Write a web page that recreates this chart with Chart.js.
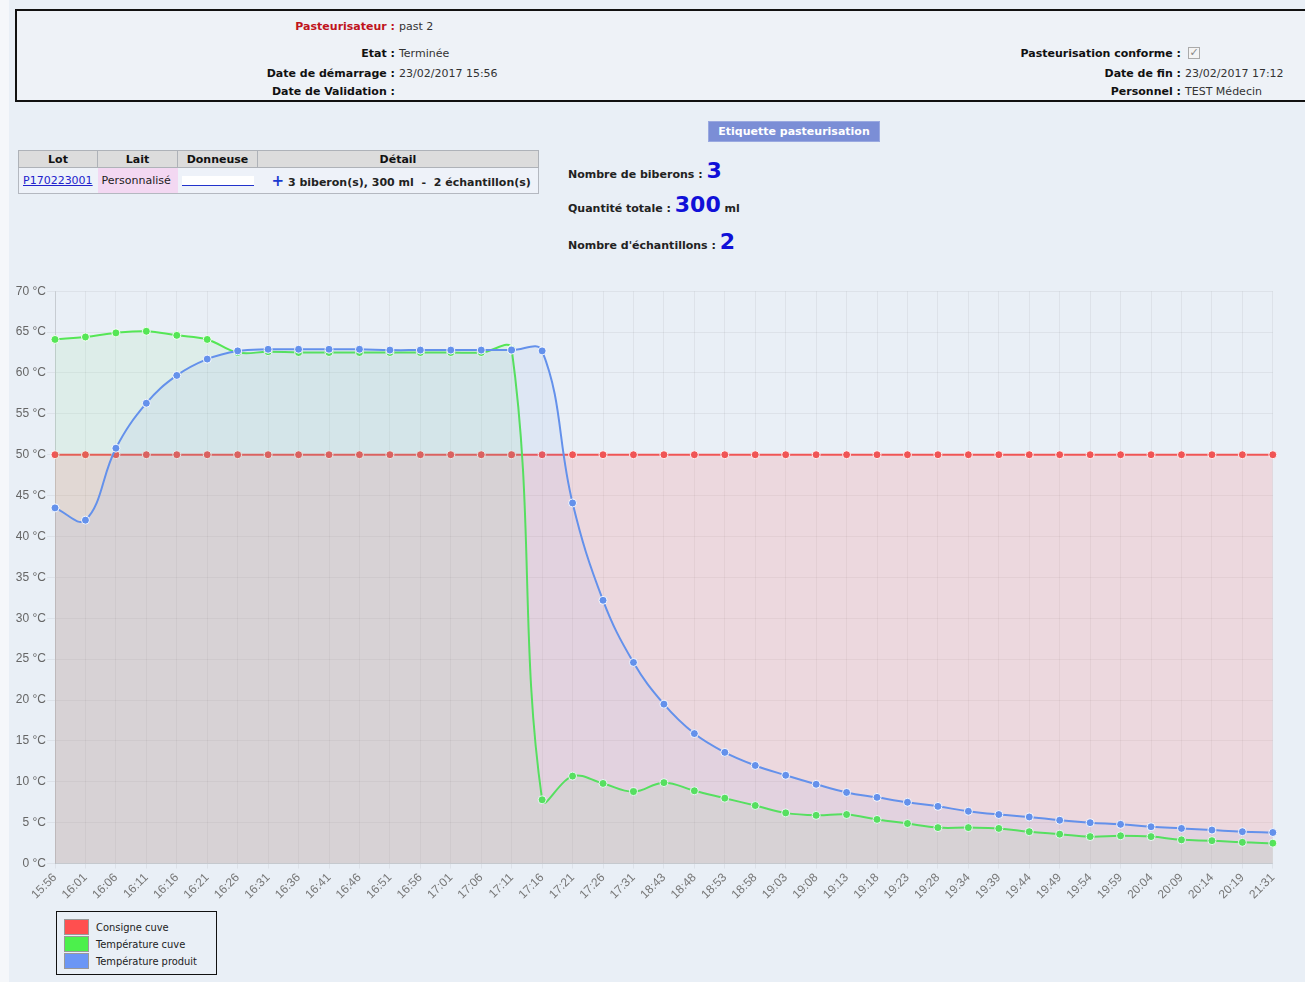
<!DOCTYPE html>
<html>
<head>
<meta charset="utf-8">
<script src="https://cdn.jsdelivr.net/npm/chart.js@4/dist/chart.umd.min.js"></script>
<style>
  html,body{margin:0;padding:0;}
  body{width:1305px;height:982px;background:#f5f7fa;position:relative;overflow:hidden;
       font-family:"DejaVu Sans",sans-serif;font-size:11px;color:#222;}
  #page{position:absolute;left:9px;top:0;width:1296px;height:982px;background:#e9eff6;}
  .abs{position:absolute;white-space:nowrap;}
  #hdr{position:absolute;left:15px;top:9px;width:1300px;height:93px;box-sizing:border-box;
       border:2px solid #111;border-right:none;background:#eef2f7;}
  .lab{font-weight:bold;color:#111;text-align:right;}
  .val{color:#333;}
  #btn{position:absolute;left:708px;top:121px;width:172px;height:21px;background:#7b8ed6;
       color:#fff;font-weight:bold;text-align:center;line-height:20px;border:1px solid #9aa9e0;box-sizing:border-box;}
  table{position:absolute;left:18px;top:150px;border-collapse:collapse;background:#eef2f9;
        border:1px solid #b4b8c0;table-layout:fixed;}
  th{background:#dcdcdc;border:1px solid #aeb2b8;height:16px;padding:0;font-weight:bold;color:#111;}
  td{height:25px;padding:0 4px;border-bottom:1px solid #b4b8c0;white-space:nowrap;overflow:hidden;}
  .big{font-weight:bold;color:#1010d8;font-size:22px;font-family:"DejaVu Sans",sans-serif;}
  #legend{position:absolute;left:56px;top:911px;width:161px;height:64px;box-sizing:border-box;
          border:1px solid #111;font-family:"DejaVu Sans Condensed","DejaVu Sans",sans-serif;}
  .li{position:absolute;left:7px;height:16px;width:150px;}
  .sw{position:absolute;left:0;top:0;width:25px;height:16px;box-sizing:border-box;border:1px solid #999;}
  .lt{position:absolute;left:32px;top:2px;color:#222;white-space:nowrap;}
  #cwrap{position:absolute;left:0;top:283px;}
</style>
</head>
<body>
<div id="page"></div>
<div id="hdr"></div>
<!-- header left column -->
<div class="abs lab" style="left:0;width:395px;top:20px;color:#c0141c;">Pasteurisateur :</div>
<div class="abs val" style="left:399px;top:20px;">past 2</div>
<div class="abs lab" style="left:0;width:395px;top:47px;">Etat :</div>
<div class="abs val" style="left:399px;top:47px;">Terminée</div>
<div class="abs lab" style="left:0;width:395px;top:67px;">Date de démarrage :</div>
<div class="abs val" style="left:399px;top:67px;">23/02/2017 15:56</div>
<div class="abs lab" style="left:0;width:395px;top:85px;">Date de Validation :</div>
<!-- header right column -->
<div class="abs lab" style="left:0;width:1181px;top:47px;">Pasteurisation conforme :</div>
<div class="abs" style="left:1188px;top:47px;width:12px;height:12px;box-sizing:border-box;border:1px solid #aaa;background:#f4f4f4;color:#888;font-size:11px;line-height:10px;text-align:center;">✓</div>
<div class="abs lab" style="left:0;width:1181px;top:67px;">Date de fin :</div>
<div class="abs val" style="left:1185px;top:67px;">23/02/2017 17:12</div>
<div class="abs lab" style="left:0;width:1181px;top:85px;">Personnel :</div>
<div class="abs val" style="left:1185px;top:85px;">TEST Médecin</div>

<div id="btn">Etiquette pasteurisation</div>

<table>
  <tr><th style="width:78px">Lot</th><th style="width:79px">Lait</th><th style="width:79px">Donneuse</th><th style="width:280px">Détail</th></tr>
  <tr>
    <td style="color:#2222cc;text-decoration:underline;">P170223001</td>
    <td style="background:#f3d8f2;">Personnalisé</td>
    <td style="padding:0 0 0 4px;"><div style="width:72px;height:9px;background:#fff;border-bottom:1px solid #2233cc;"></div></td>
    <td style="font-weight:bold;padding-left:14px;"><span style="color:#1a3ad0;font-size:15px;">+</span> 3 biberon(s), 300 ml &nbsp;-&nbsp; 2 échantillon(s)</td>
  </tr>
</table>

<div class="abs" style="left:568px;top:158px;"><b>Nombre de biberons : </b><span class="big">3</span></div>
<div class="abs" style="left:568px;top:192px;"><b>Quantité totale : </b><span class="big">300</span><b> ml</b></div>
<div class="abs" style="left:568px;top:229px;"><b>Nombre d'échantillons : </b><span class="big">2</span></div>

<div id="cwrap"><canvas id="c" width="1285" height="621"></canvas></div>

<div id="legend">
  <div class="li" style="top:7px;"><div class="sw" style="background:#ff4f4f;"></div><div class="lt">Consigne cuve</div></div>
  <div class="li" style="top:24px;"><div class="sw" style="background:#4cf04c;"></div><div class="lt">Température cuve</div></div>
  <div class="li" style="top:41px;"><div class="sw" style="background:#6b96f5;"></div><div class="lt">Température produit</div></div>
</div>

<script>
const labels = ['15:56','16:01','16:06','16:11','16:16','16:21','16:26','16:31','16:36','16:41','16:46','16:51','16:56','17:01','17:06','17:11','17:16','17:21','17:26','17:31','18:43','18:48','18:53','18:58','19:03','19:08','19:13','19:18','19:23','19:28','19:34','19:39','19:44','19:49','19:54','19:59','20:04','20:09','20:14','20:19','21:31'];
const consigneCuve = [50,50,50,50,50,50,50,50,50,50,50,50,50,50,50,50,50,50,50,50,50,50,50,50,50,50,50,50,50,50,50,50,50,50,50,50,50,50,50,50,50];
const temperatureCuve = [64.1,64.4,64.9,65.1,64.6,64.1,62.5,62.6,62.5,62.5,62.5,62.5,62.5,62.5,62.5,62.9,7.8,10.7,9.8,8.8,9.9,8.9,8.0,7.1,6.2,5.9,6.0,5.4,4.9,4.4,4.4,4.3,3.9,3.6,3.3,3.4,3.3,2.9,2.8,2.6,2.5];
const temperatureProduit = [43.5,42.0,50.8,56.3,59.7,61.7,62.7,62.9,62.9,62.9,62.9,62.8,62.8,62.8,62.8,62.8,62.7,44.1,32.2,24.6,19.5,15.9,13.6,12.0,10.8,9.7,8.7,8.1,7.5,7.0,6.4,6.0,5.7,5.3,5.0,4.8,4.5,4.3,4.1,3.9,3.8];
const yTicks = [0,5,10,15,20,25,30,35,40,45,50,55,60,65,70];

function ds(label, data, line, fill, order){
  return {label, data, borderColor: line, backgroundColor: fill, fill: 'origin',
    borderWidth: 2, tension: 0.4, pointRadius: 4, pointHoverRadius: 4,
    pointBackgroundColor: line, pointBorderColor: 'rgba(255,255,255,0.9)', pointBorderWidth: 1, order};
}

new Chart(document.getElementById('c'), {
  type: 'line',
  data: {
    labels,
    datasets: [
      ds('Consigne cuve', consigneCuve, 'rgba(240,85,85,1)', 'rgba(255,100,100,0.16)', 3),
      ds('Température cuve', temperatureCuve, 'rgba(85,230,85,1)', 'rgba(90,220,90,0.08)', 2),
      ds('Température produit', temperatureProduit, 'rgba(100,145,235,1)', 'rgba(100,140,235,0.08)', 1)
    ]
  },
  options: {
    responsive: false,
    animation: false,
    layout: {padding: {left: 0, right: 0, top: 0, bottom: 0}},
    plugins: {legend: {display: false}, tooltip: {enabled: false}},
    scales: {
      x: {
        grid: {color: 'rgba(0,0,0,0.05)', tickLength: 5},
        border: {color: 'rgba(0,0,0,0.1)'},
        ticks: {color: '#777', font: {size: 12, family: 'Liberation Sans, Arial, sans-serif'}, minRotation: 45, maxRotation: 45, autoSkip: false, padding: 2}
      },
      y: {
        min: 0, max: 70,
        afterBuildTicks: (s) => { s.ticks = yTicks.map(v => ({value: v})); },
        afterFit: (s) => { s.width = 55; },
        grid: {color: 'rgba(0,0,0,0.05)', tickLength: 8},
        border: {color: 'rgba(0,0,0,0.1)'},
        ticks: {color: '#666', font: {size: 12, family: 'Liberation Sans, Arial, sans-serif'}, padding: 1,
                callback: (v) => v + ' °C'}
      }
    }
  }
});
</script>
</body>
</html>
